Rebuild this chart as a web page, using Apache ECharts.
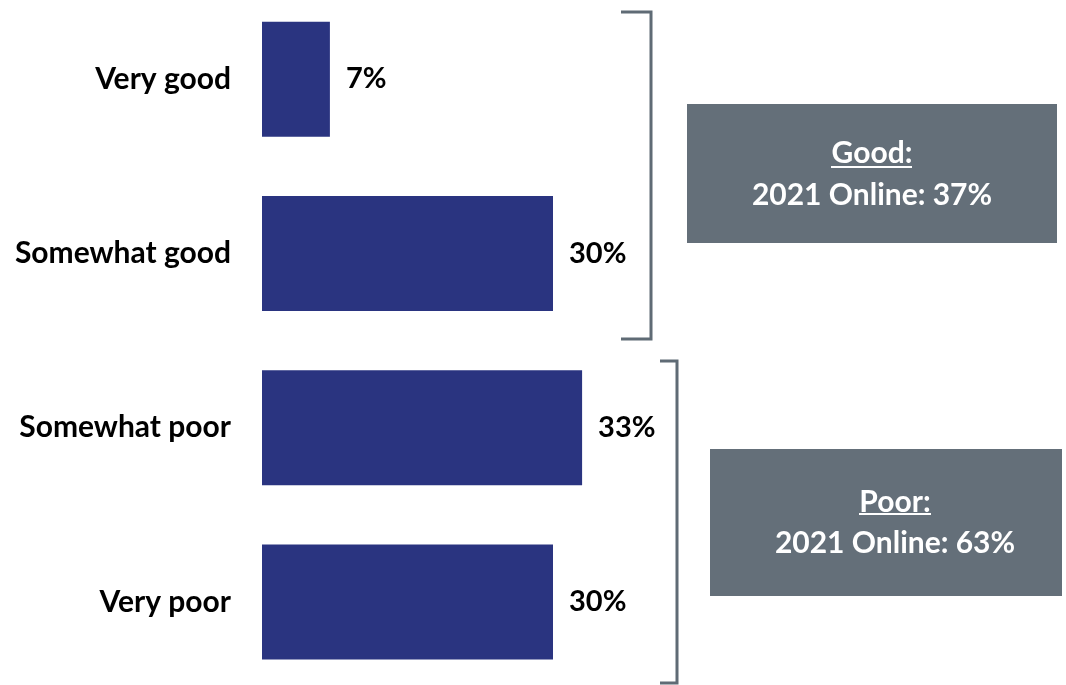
<!DOCTYPE html>
<html>
<head>
<meta charset="utf-8">
<script src="https://cdn.jsdelivr.net/npm/echarts@6/dist/echarts.min.js"></script>
<style>
html,body{margin:0;padding:0;background:#fff;overflow:hidden;}
#chart{width:1066px;height:700px;margin-top:-8px;}
</style>
</head>
<body>
<div id="chart"></div>
<script>
const categories = ["Very good", "Somewhat good", "Somewhat poor", "Very poor"];
const values = [7, 30, 33, 30];
const summaryTitles = ["Good:", "Poor:"];
const summaryLines = ["2021 Online: 37%", "2021 Online: 63%"];

const FONT = 'Lato, "Open Sans", sans-serif';
const BAR = '#2a3480';
const BOX = '#646f79';
const BRACKET = '#5f6b75';
const OY = 8; // vertical offset of the canvas (div shifted up by 8px)

const chart = echarts.init(document.getElementById('chart'), null, {renderer: 'canvas'});

const option = {
  animation: false,
  backgroundColor: '#ffffff',
  grid: {left: 262, top: 0, width: 388, height: 697, containLabel: false},
  xAxis: {
    type: 'value', min: 0, max: 40,
    show: false
  },
  yAxis: {
    type: 'category',
    data: categories,
    inverse: true,
    axisLine: {show: false},
    axisTick: {show: false},
    splitLine: {show: false},
    axisLabel: {
      margin: 31,
      fontFamily: FONT,
      fontWeight: 'bold',
      fontSize: 30,
      color: '#000'
    }
  },
  series: [{
    type: 'bar',
    data: values,
    barWidth: 115,
    itemStyle: {color: BAR},
    label: {
      show: true,
      position: 'right',
      distance: 16,
      formatter: '{c}%',
      fontFamily: FONT,
      fontWeight: 'bold',
      fontSize: 29,
      color: '#000'
    }
  }],
  graphic: [
    {type: 'polyline', shape: {points: [[621,12+OY],[651,12+OY],[651,339+OY],[621,339+OY]]},
     style: {stroke: BRACKET, lineWidth: 3, fill: null}},
    {type: 'polyline', shape: {points: [[660,361+OY],[677,361+OY],[677,683+OY],[660,683+OY]]},
     style: {stroke: BRACKET, lineWidth: 3, fill: null}},
    {type: 'rect', shape: {x: 687, y: 104+OY, width: 370, height: 139},
     style: {fill: BOX}},
    {type: 'rect', shape: {x: 710, y: 449+OY, width: 352, height: 147},
     style: {fill: BOX}},
    {type: 'text', x: 872, y: 153+OY,
     style: {text: summaryTitles[0], fill: '#fff', font: 'bold 30px ' + FONT, align: 'center', verticalAlign: 'middle'}},
    {type: 'line', shape: {x1: 831, y1: 167+OY, x2: 912, y2: 167+OY}, style: {stroke: '#fff', lineWidth: 2}},
    {type: 'text', x: 872, y: 195+OY,
     style: {text: summaryLines[0], fill: '#fff', font: 'bold 30px ' + FONT, align: 'center', verticalAlign: 'middle'}},
    {type: 'text', x: 895, y: 502+OY,
     style: {text: summaryTitles[1], fill: '#fff', font: 'bold 30px ' + FONT, align: 'center', verticalAlign: 'middle'}},
    {type: 'line', shape: {x1: 859, y1: 514+OY, x2: 931, y2: 514+OY}, style: {stroke: '#fff', lineWidth: 2}},
    {type: 'text', x: 895, y: 543+OY,
     style: {text: summaryLines[1], fill: '#fff', font: 'bold 30px ' + FONT, align: 'center', verticalAlign: 'middle'}}
  ]
};
chart.setOption(option);
</script>
</body>
</html>
